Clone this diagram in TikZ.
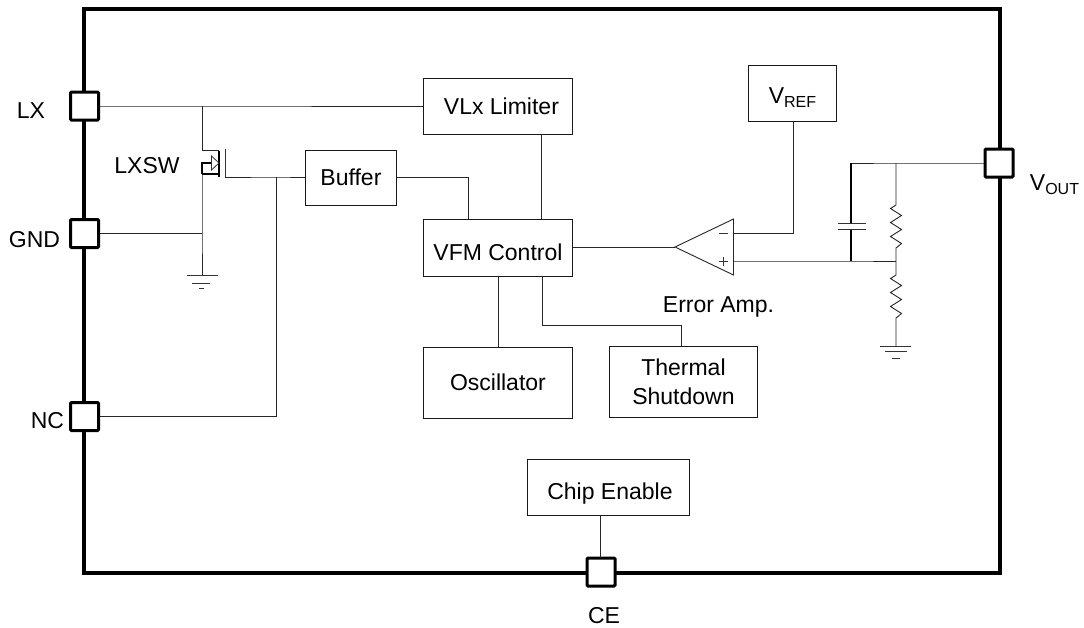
\documentclass[tikz,border=0pt]{standalone}
\usepackage{fontspec}
\setmainfont{Liberation Sans}
\usetikzlibrary{calc}
\tikzset{
  blockbox/.style={draw=black!90,line width=0.9pt,fill=white,anchor=north west,inner sep=0pt,align=center,font=\fontsize{23}{28.5}\selectfont},
  padbox/.style={draw=black,line width=3pt,fill=white,minimum size=28pt,inner sep=0pt,rounded corners=1pt},
  wire/.style={line width=0.9pt,draw=black!85},
  thin wire/.style={line width=0.8pt,draw=black!80},
  lbl/.style={font=\fontsize{23}{28}\selectfont,inner sep=0pt,anchor=base},
}
\newcommand{\sbs}[1]{\raisebox{-4.5pt}{\fontsize{16}{16}\selectfont #1}}
% name, x1, y1, x2, y2, baseline offset below centre (doubled = text height), text
\newcommand{\blk}[7]{\node[blockbox,minimum width=#4pt-#2pt,minimum height=#5pt-#3pt,text height=2*#6pt,text depth=0pt] (#1) at (#2,#3) {#7};}
\begin{document}
\begin{tikzpicture}[x=1pt,y=-1pt]
\useasboundingbox (0,0) rectangle (1084,627);
\node[minimum width=916.5pt,minimum height=564pt,inner sep=0pt,line width=4pt,draw=black] (chip) at (542.2,290.6) {};
% blocks
\blk{vlx}{423}{78}{572}{134}{8}{\hspace*{7pt}VLx Limiter}
\blk{vref}{748}{65}{836}{121}{10}{V\sbs{REF}}
\blk{buffer}{305}{150}{396}{205}{8}{Buffer}
\blk{vfm}{423}{219}{572}{275.5}{13}{VFM Control}
\blk{osc}{423}{347}{572}{418}{8}{Oscillator}
\node[blockbox,minimum width=148pt,minimum height=71pt] (therm) at (609,346) {Thermal\\Shutdown};
\blk{ce}{527}{459}{689}{515}{12}{\hspace*{3pt}Chip Enable}
% pads
\node[padbox] (lx) at (84.5,106) {};
\node[padbox] (gnd) at (84.5,233.5) {};
\node[padbox] (nc) at (84.5,416.5) {};
\node[padbox] (vout) at (999,163) {};
\node[padbox] (cep) at (601,572) {};
% pad labels
\node[lbl] (tlx) at (31,118) {LX};
\node[lbl] (tgnd) at (34.5,247) {GND};
\node[lbl] (tnc) at (47.5,428) {NC};
\node[lbl] (tvout) at (1054.5,190) {V\sbs{OUT}};
\node[lbl] (tce) at (604,623) {CE};
\node[lbl] (tsw) at (147,173) {LXSW};
\node[lbl] (terr) at (718.5,312) {Error Amp.};
% junction coordinates
\coordinate (dtop) at (202,106);
\coordinate (dbot) at (202,150.5);
\coordinate (chtop) at (219,150.5);
\coordinate (chbot) at (219,177);
\coordinate (srcr) at (219,163);
\coordinate (bod) at (202,174);
\coordinate (bodr) at (219,174);
\coordinate (gtop) at (225,149);
\coordinate (gbot) at (225,177);
\coordinate (gj) at (276,177);
\coordinate (sw) at (202,233);
\coordinate (g1) at (202,275);
\coordinate (ampT) at (675,247);
\coordinate (ampA) at (733.5,219);
\coordinate (ampB) at (733.5,275);
\coordinate (ampM) at (733.5,233);
\coordinate (ampP) at (733.5,261);
\coordinate (capT) at (851,163);
\coordinate (capJ) at (851,261);
\coordinate (resT) at (896,163);
\coordinate (resJ) at (896,261);
\coordinate (g2) at (896,346);
% connectors
\draw[wire] (lx.east |- dtop) -- (dtop) -- (vlx.west |- dtop);
\draw[wire] (dtop) -- (dbot) -- (chtop);
\draw[wire] (gnd.east |- sw) -- (sw);
\draw[wire] (bod) -- (sw) -- (g1);
\draw[wire] (nc.east) -- (276,416.5) -- (gj);
\draw[wire] (gtop) -- (gbot) -- (gj) -- (buffer.west |- gj);
\draw[wire] (buffer.east |- gj) -- (468,177) -- (468,219);
\draw[wire] (541,134) -- (541,219);
\draw[wire] (498,275.5) -- (498,347);
\draw[wire] (542,275.5) -- (542,325) -- (681,325) -- (681,346);
\draw[wire] (vfm.east |- ampT) -- (ampT);
\draw[wire] (ampM) -- (793,233) -- (793,121);
\draw[wire] (ampP) -- (capJ) -- (resJ);
\draw[wire] (vout.west) -- (resT) -- (capT);
\draw[line width=1.5pt] (capT) -- (851,223.5);
\draw[line width=1.5pt] (851,229) -- (capJ);
\draw[thin wire] (838,223.5) -- (866,223.5);
\draw[thin wire] (838,229) -- (866,229);
\draw[wire] (resT) -- (896,205) -- (890.5,208.5) -- (901.5,215.5) -- (890.5,222.5) -- (901.5,229.5) -- (890.5,236.5) -- (901.5,243.5) -- (896,248) -- (resJ) -- (896,275) -- (890.5,278.5) -- (901.5,285.5) -- (890.5,292.5) -- (901.5,299.5) -- (890.5,306.5) -- (901.5,313.5) -- (896,318) -- (g2);
\draw[wire] (600.3,515) -- (600.3,558);
% op amp
\draw[wire,fill=white,line join=miter] (ampT) -- (ampA) -- (ampB) -- cycle;
\draw[thin wire] (719,233) -- (728,233);
\draw[thin wire] (719,261) -- (728,261) (723.5,256.5) -- (723.5,265.5);
% MOSFET
\draw[line width=1.3pt] (chtop) -- (chbot);
\draw[thin wire] (gtop) -- (gbot);
\draw[line width=1.5pt] (bod) -- (bodr);
\draw[line width=1.2pt] (bod) -- (202,163) -- (211.5,163);
\draw[thin wire,fill=white,line join=miter] (219,163) -- (211.5,156) -- (211.5,170) -- cycle;
% grounds
\draw[thin wire] (187,275) -- (218,275) (192,283) -- (210,283) (199,288) -- (204,288);
\draw[thin wire] (880,346) -- (911,346) (885,351) -- (907,351) (892,358) -- (900,358);
\end{tikzpicture}
\end{document}
